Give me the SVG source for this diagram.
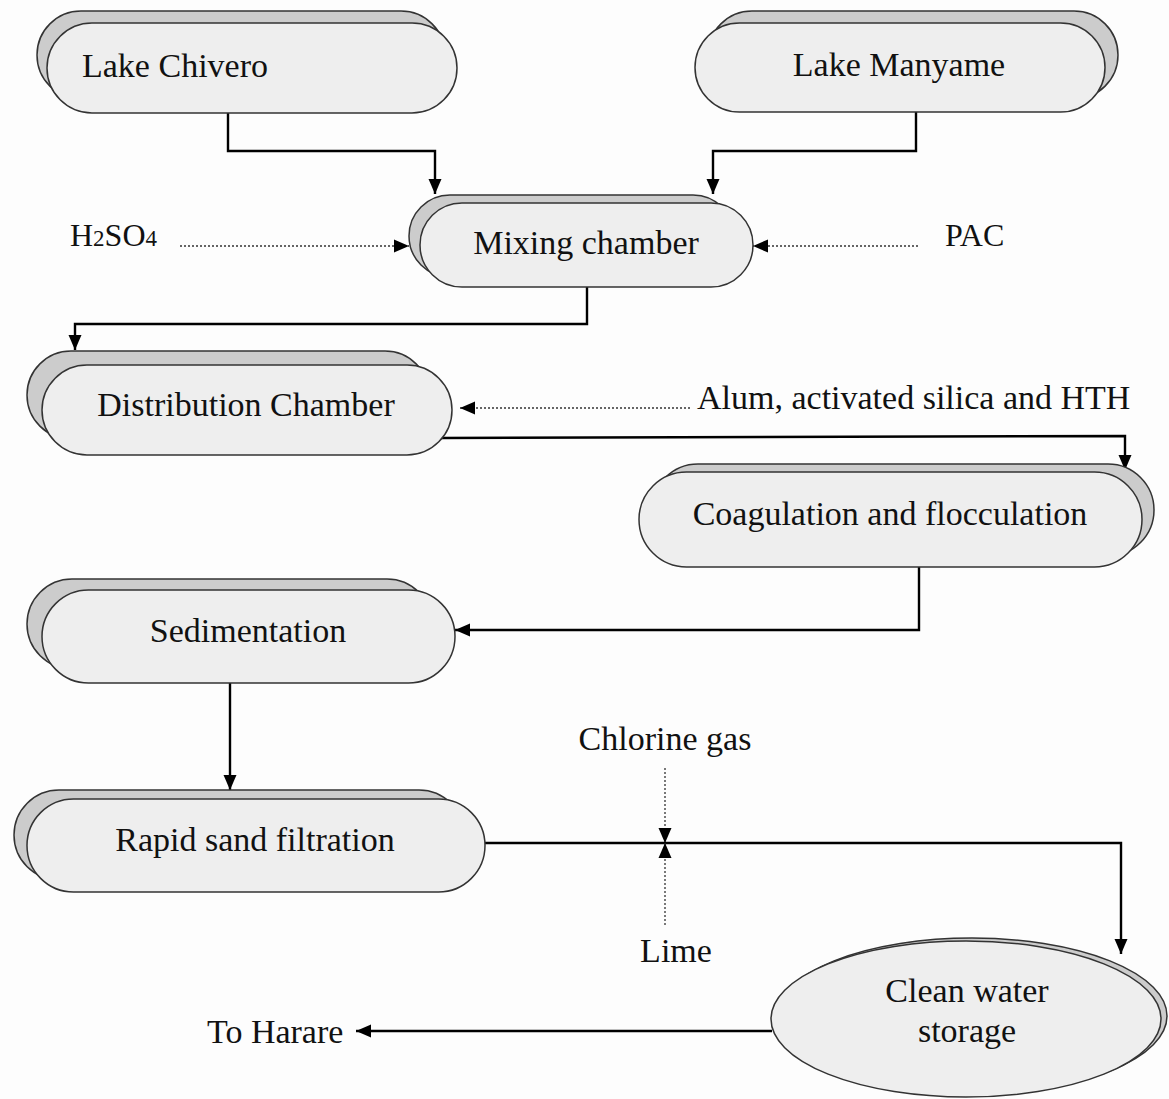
<svg xmlns="http://www.w3.org/2000/svg" width="1169" height="1099" viewBox="0 0 1169 1099">
<defs>
<marker id="ah" markerUnits="userSpaceOnUse" markerWidth="16" markerHeight="16" viewBox="0 0 16 16" refX="15" refY="8" orient="auto">
<path d="M0,1.5 L15,8 L0,14.5 Z" fill="#000"/>
</marker>
</defs>
<style>
.bg{fill:#fdfdfd}
.sh{fill:#cccccc;stroke:#333;stroke-width:1.5}
.fr{fill:#eeeeee;stroke:#333;stroke-width:1.5}
.t{font-family:"Liberation Serif","Times New Roman",serif;font-size:34px;fill:#111}
.c{text-anchor:middle}
.ln{fill:none;stroke:#000;stroke-width:2.4}
.dt{fill:none;stroke:#333;stroke-width:1.3;stroke-dasharray:2 2}
</style>
<rect class="bg" x="0" y="0" width="1169" height="1099"/>

<g id="connectors">
<path class="ln" d="M228 113 V151 H435 V194" marker-end="url(#ah)"/>
<path class="ln" d="M916 112 V151 H713 V194" marker-end="url(#ah)"/>
<path class="dt" d="M180 246 H409" marker-end="url(#ah)"/>
<path class="dt" d="M918 246 H753" marker-end="url(#ah)"/>
<path class="ln" d="M587 287 V324 H75 V350" marker-end="url(#ah)"/>
<path class="dt" d="M690 408 H460" marker-end="url(#ah)"/>
<path class="ln" d="M440 438 L1125 436 V470" marker-end="url(#ah)"/>
<path class="ln" d="M919 567 V630 H455" marker-end="url(#ah)"/>
<path class="ln" d="M230 683 V790" marker-end="url(#ah)"/>
<path class="ln" d="M485 843 H1121 V954" marker-end="url(#ah)"/>
<path class="dt" d="M665 768 V843" marker-end="url(#ah)"/>
<path class="dt" d="M665 925 V843" marker-end="url(#ah)"/>
<path class="ln" d="M772 1031 H356" marker-end="url(#ah)"/>
</g>

<g id="lake-chivero">
<rect class="sh" x="37" y="11" width="408" height="88" rx="44"/>
<rect class="fr" x="47" y="23" width="410" height="90" rx="45"/>
<text class="t" x="82" y="77">Lake Chivero</text>
</g>

<g id="lake-manyame">
<rect class="sh" x="708" y="11" width="410" height="88" rx="44"/>
<rect class="fr" x="695" y="23" width="410" height="89" rx="44.5"/>
<text class="t c" x="899" y="76">Lake Manyame</text>
</g>

<g id="mixing-chamber">
<rect class="sh" x="409" y="195" width="325" height="82" rx="41"/>
<rect class="fr" x="420" y="203" width="333" height="84" rx="42"/>
<text class="t c" x="586" y="254">Mixing chamber</text>
</g>

<g id="distribution-chamber">
<rect class="sh" x="27" y="351" width="402" height="88" rx="44"/>
<rect class="fr" x="42" y="365" width="410" height="90" rx="45"/>
<text class="t c" x="246" y="416">Distribution Chamber</text>
</g>

<g id="coagulation">
<rect class="sh" x="652" y="464" width="502" height="92" rx="46"/>
<rect class="fr" x="639" y="472" width="503" height="95" rx="47.5"/>
<text class="t c" x="890" y="525">Coagulation and flocculation</text>
</g>

<g id="sedimentation">
<rect class="sh" x="27" y="579" width="405" height="90" rx="45"/>
<rect class="fr" x="42" y="590" width="413" height="93" rx="46.5"/>
<text class="t c" x="248" y="642">Sedimentation</text>
</g>

<g id="rapid-sand-filtration">
<rect class="sh" x="14" y="790" width="450" height="90" rx="45"/>
<rect class="fr" x="27" y="799" width="458" height="93" rx="46.5"/>
<text class="t c" x="255" y="851">Rapid sand filtration</text>
</g>

<g id="clean-water-storage">
<ellipse class="sh" cx="972" cy="1016" rx="195" ry="78"/>
<ellipse class="fr" cx="966" cy="1019" rx="195" ry="78"/>
<text class="t c" x="967" y="1002">Clean water</text>
<text class="t c" x="967" y="1042">storage</text>
</g>

<g id="labels">
<text class="t" x="70" y="246" style="font-size:32px">H<tspan style="font-size:23px">2</tspan>SO<tspan style="font-size:23px">4</tspan></text>
<text class="t" x="945" y="246" style="font-size:32px">PAC</text>
<text class="t" x="697" y="409">Alum, activated silica and HTH</text>
<text class="t c" x="665" y="750">Chlorine gas</text>
<text class="t c" x="676" y="962">Lime</text>
<text class="t" x="207" y="1043">To Harare</text>
</g>
</svg>
